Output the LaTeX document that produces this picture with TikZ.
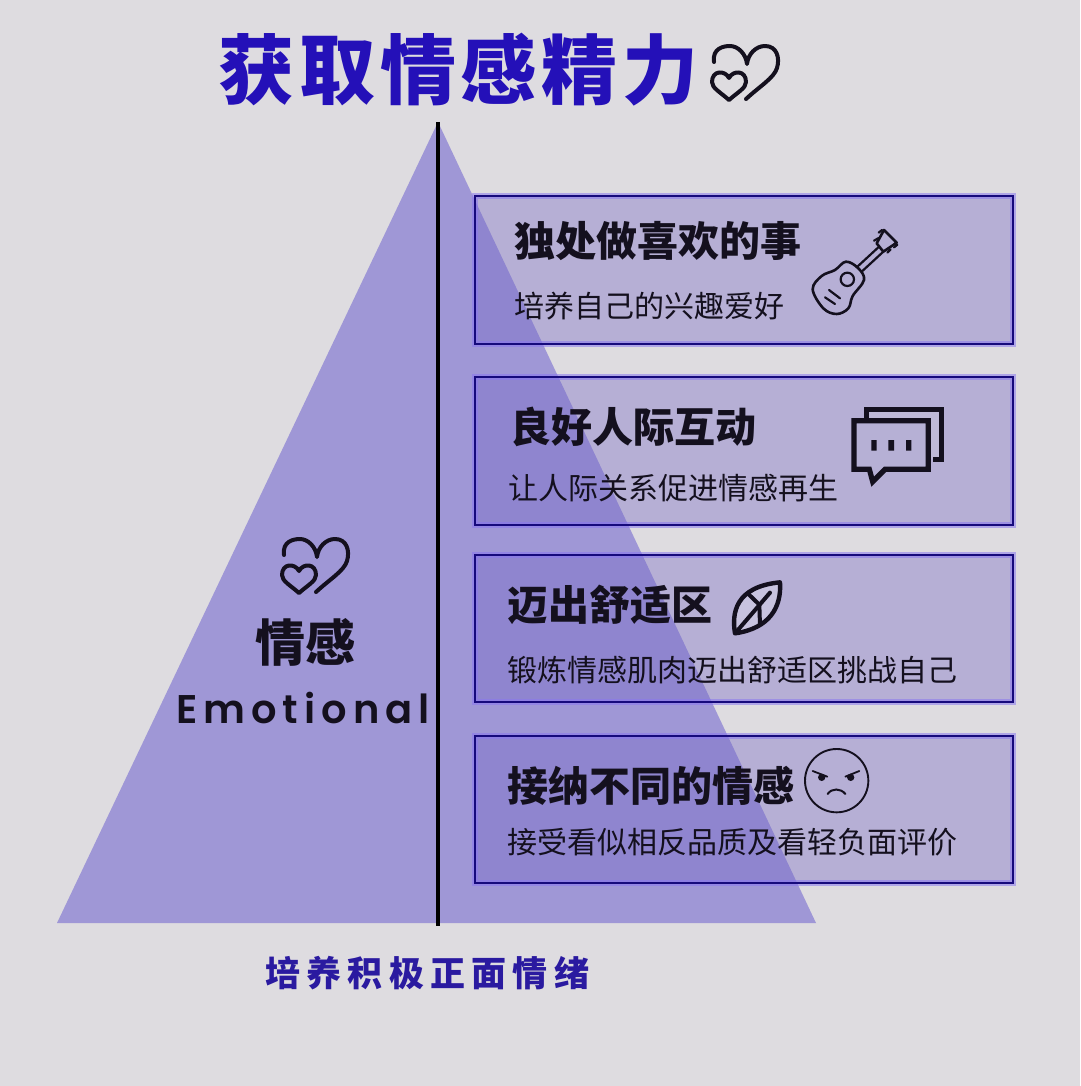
\documentclass[tikz,border=0pt]{standalone}
\usepackage{fontspec}
\newfontfamily\cjk{Noto Sans CJK SC}
\newfontfamily\cjkt[LetterSpace=6.5]{Noto Sans CJK SC}
\newfontfamily\cjkb[LetterSpace=18]{Noto Sans CJK SC}
\newfontfamily\emo[LetterSpace=15]{Poppins SemiBold}
\definecolor{bgc}{HTML}{DEDCE0}
\definecolor{tric}{HTML}{9F97D6}
\definecolor{boxc}{HTML}{7568C4}
\definecolor{edgec}{HTML}{160A7C}
\definecolor{glowc}{HTML}{8A78F0}
\definecolor{titlec}{HTML}{2410B8}
\definecolor{subc}{HTML}{2A1AA0}
\definecolor{inkc}{HTML}{14101E}
\tikzset{
 x=1pt,y=-1pt,
 panel/.style={fill=boxc,fill opacity=.38},
 glow/.style={draw=glowc,line width=6pt,draw opacity=.55},
 rim/.style={draw=edgec,line width=2.6pt},
 headtxt/.style={anchor=west,inner sep=0pt,text=inkc,font=\cjk\bfseries\fontsize{41}{41}\selectfont},
 subtxt/.style={anchor=west,inner sep=0pt,text=inkc,font=\cjk\fontsize{30}{30}\selectfont},
 icon/.style={draw=inkc,line width=2.2pt,line cap=round,line join=round},
 hearticon/.pic={
  \draw[inkc,line width=4pt,line cap=round,line join=round]
   (14,32) .. controls (12,18) and (24,16) .. (30,16) .. controls (38,16) and (46,24) .. (47,34)
   .. controls (48,24) and (56,16) .. (65,16) .. controls (77,16) and (80,28) .. (77,38)
   .. controls (74,48) and (60,56) .. (46,69);
  \draw[inkc,line width=4pt,line join=round]
   (29,48) .. controls (25,40) and (12,40) .. (12,52) .. controls (12,58) and (20,62) .. (29,70)
   .. controls (38,62) and (46,58) .. (46,52) .. controls (46,40) and (33,40) .. (29,48) -- cycle;
 }
}
\begin{document}
\begin{tikzpicture}
\useasboundingbox (0,0) rectangle (1080,1086);
\fill[bgc] (0,0) rectangle (1080,1086);
\fill[tric] (438,122) -- (816,923) -- (57,923) -- cycle;
\foreach \nm/\ya/\yb in {p1/196/344,p2/377/525,p3/555/702,p4/736/883}{
 \fill[panel] (475,\ya) rectangle (1013,\yb);
 \draw[glow] (475,\ya) rectangle (1013,\yb);
 \draw[rim] (475,\ya) rectangle (1013,\yb);
}
\draw[black,line width=4pt] (438,122) -- (438,926);
\node[anchor=west,inner sep=0pt,text=titlec,font=\cjkt\bfseries\fontsize{76}{76}\selectfont] (title) at (218,70) {获取情感精力};
\pic at (700,30) {hearticon};
\pic at (270,523) {hearticon};
\node[inner sep=0pt,text=inkc,font=\cjk\bfseries\fontsize{50}{50}\selectfont] (qg) at (305,642) {情感};
\node[anchor=west,inner sep=0pt,text=inkc,font=\emo\fontsize{40}{40}\selectfont] (emo) at (176,708) {Emotional};
\node[anchor=west,inner sep=0pt,text=subc,font=\cjkb\bfseries\fontsize{35}{35}\selectfont] (foot) at (265,973) {培养积极正面情绪};
\node[headtxt] (h1) at (514,241) {独处做喜欢的事};
\node[subtxt] (s1) at (514,306) {培养自己的兴趣爱好};
\node[headtxt] (h2) at (510,427) {良好人际互动};
\node[subtxt] (s2) at (508,488) {让人际关系促进情感再生};
\node[headtxt] (h3) at (507,605) {迈出舒适区};
\node[subtxt] (s3) at (507,670) {锻炼情感肌肉迈出舒适区挑战自己};
\node[headtxt] (h4) at (507,786) {接纳不同的情感};
\node[subtxt] (s4) at (507,842) {接受看似相反品质及看轻负面评价};
% guitar
\begin{scope}[shift={(780,210)},scale=1/3]
 \draw[icon,line width=2.6pt] plot[smooth cycle,tension=.6] coordinates {(98,238) (125,198) (165,180) (198,155) (235,175) (252,210) (218,258) (205,295) (170,312) (130,295)};
 \draw[icon] (202,208) circle (20);
 \draw[icon] (135,262) -- (165,282);
 \draw[icon] (147,240) -- (180,265);
 \draw[icon] (230,172) -- (295,112);
 \draw[icon] (245,185) -- (310,125);
 \draw[icon,line width=2.6pt] (290,100) -- (312,60) -- (350,98) -- (310,125) -- cycle;
 \draw[icon] (282,92) -- (296,84);
 \draw[icon] (296,68) -- (306,60);
 \draw[icon] (322,128) -- (332,118);
 \draw[icon] (342,112) -- (352,104);
\end{scope}
% chat
\begin{scope}[shift={(780,210)},scale=1/3]
 \fill[bgc!70!boxc] (258,597) rectangle (485,748);
 \fill[bgc!62!boxc] (222,632) rectangle (445,778);
 \draw[inkc,line width=5pt,miter limit=10] (258,632) -- (258,597) -- (485,597) -- (485,748) -- (458,748);
 \draw[inkc,line width=5.2pt,line join=miter] (222,632) -- (445,632) -- (445,778) -- (315,778) -- (278,815) -- (268,778) -- (222,778) -- cycle;
 \fill[inkc] (274,690) rectangle (290,722) (325,690) rectangle (342,722) (378,690) rectangle (394,722);
\end{scope}
% leaf
\begin{scope}[shift={(720,570)},scale=1/3]
 \draw[inkc,fill=white,fill opacity=.25,draw opacity=1,line width=4.4pt,line join=round]
  (45,190) .. controls (35,130) and (45,50) .. (180,37) .. controls (185,110) and (150,175) .. (45,190) -- cycle;
 \draw[inkc,line width=4pt,line cap=round] (52,182) -- (150,68);
 \draw[inkc,line width=4pt] (85,72) -- (118,104) -- (120,168);
\end{scope}
% face
\begin{scope}[shift={(720,570)},scale=1/3]
 \draw[inkc,line width=1.9pt] (350,632) circle (95);
 \fill[inkc] (305,622) circle (11) (392,622) circle (11);
 \draw[inkc,line width=1.8pt,line cap=round] (278,603) -- (322,620);
 \draw[inkc,line width=1.8pt,line cap=round] (418,603) -- (376,620);
 \draw[inkc,line width=2pt,line cap=round] (323,672) .. controls (335,654) and (362,654) .. (376,672);
\end{scope}
\end{tikzpicture}
\end{document}
